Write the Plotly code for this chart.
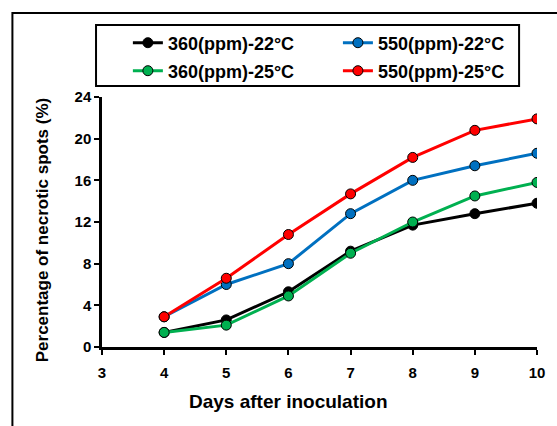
import plotly.graph_objects as go

days = [4, 5, 6, 7, 8, 9, 10]
s360_22 = [1.4, 2.6, 5.3, 9.2, 11.7, 12.8, 13.8]
s550_22 = [2.9, 6.0, 8.0, 12.8, 16.0, 17.4, 18.6]
s360_25 = [1.4, 2.1, 4.9, 9.0, 12.0, 14.5, 15.8]
s550_25 = [2.9, 6.6, 10.8, 14.7, 18.2, 20.8, 21.9]
names = ["360(ppm)-22°C", "550(ppm)-22°C", "360(ppm)-25°C", "550(ppm)-25°C"]
colors = ["#000000", "#0070C0", "#00B050", "#FF0000"]
series = [s360_22, s550_22, s360_25, s550_25]
x_title = "Days after inoculation"
y_title = "Percentage of necrotic spots (%)"

W, H = 557, 426
L, R, T, B = 102, 18, 97, 79
PW, PH = W - L - R, H - T - B

def px_x(p):
    return (p - L) / PW

def px_y(p):
    return (H - B - p) / PH

FONT = "Liberation Sans, Arial, sans-serif"

fig = go.Figure()
legend_ids = ["legend2", "legend3", "legend4", "legend5"]
for i, (nm, col, ys) in enumerate(zip(names, colors, series)):
    fig.add_trace(go.Scatter(
        x=days, y=ys, name=nm, mode="lines+markers",
        line=dict(color=col, width=3),
        marker=dict(size=10, color=col, line=dict(color="black", width=1)),
        legend=legend_ids[i],
    ))

leg_pos = [(136, 43), (347, 43), (136, 71), (347, 71)]
leg_layout = {}
for lid, (lx, ly) in zip(legend_ids, leg_pos):
    leg_layout[lid] = dict(
        x=px_x(lx - 8), y=px_y(ly), xanchor="left", yanchor="middle",
        orientation="h", bgcolor="rgba(0,0,0,0)", borderwidth=0,
        font=dict(family=FONT, size=18, color="black", weight="bold"),
        itemwidth=30,
    )

fig.update_layout(
    width=W, height=H,
    margin=dict(l=L, r=R, t=T, b=B),
    paper_bgcolor="white", plot_bgcolor="white",
    font=dict(family=FONT, color="black"),
    showlegend=True,
    **leg_layout,
    shapes=[
        dict(type="rect", xref="paper", yref="paper",
             x0=px_x(96), x1=px_x(521), y0=px_y(86), y1=px_y(25),
             line=dict(color="black", width=2)),
        dict(type="rect", xref="paper", yref="paper",
             x0=px_x(12), x1=px_x(600), y0=px_y(480), y1=px_y(13),
             line=dict(color="black", width=2)),
    ],
    annotations=[
        dict(text=x_title, xref="paper", yref="paper",
             x=px_x(289), y=px_y(401), xanchor="center", yanchor="middle",
             showarrow=False,
             font=dict(family=FONT, size=19, color="black", weight="bold")),
        dict(text=y_title, xref="paper", yref="paper", textangle=-90,
             x=px_x(42), y=px_y(230), xanchor="center", yanchor="middle",
             showarrow=False,
             font=dict(family=FONT, size=17, color="black", weight="bold")),
    ],
)

fig.update_xaxes(
    range=[3, 10], dtick=1, tick0=3, showgrid=False, zeroline=False,
    showline=True, linecolor="black", linewidth=2.5,
    ticks="outside", ticklen=5, tickwidth=2, tickcolor="black",
    ticklabelstandoff=5,
    tickfont=dict(family=FONT, size=15, color="black", weight="bold"),
)
fig.update_yaxes(
    range=[0, 24], dtick=4, tick0=0, showgrid=False, zeroline=False,
    showline=True, linecolor="black", linewidth=2.5,
    ticks="outside", ticklen=5, tickwidth=2, tickcolor="black",
    tickfont=dict(family=FONT, size=15, color="black", weight="bold"),
)

fig.write_html("out.html")
